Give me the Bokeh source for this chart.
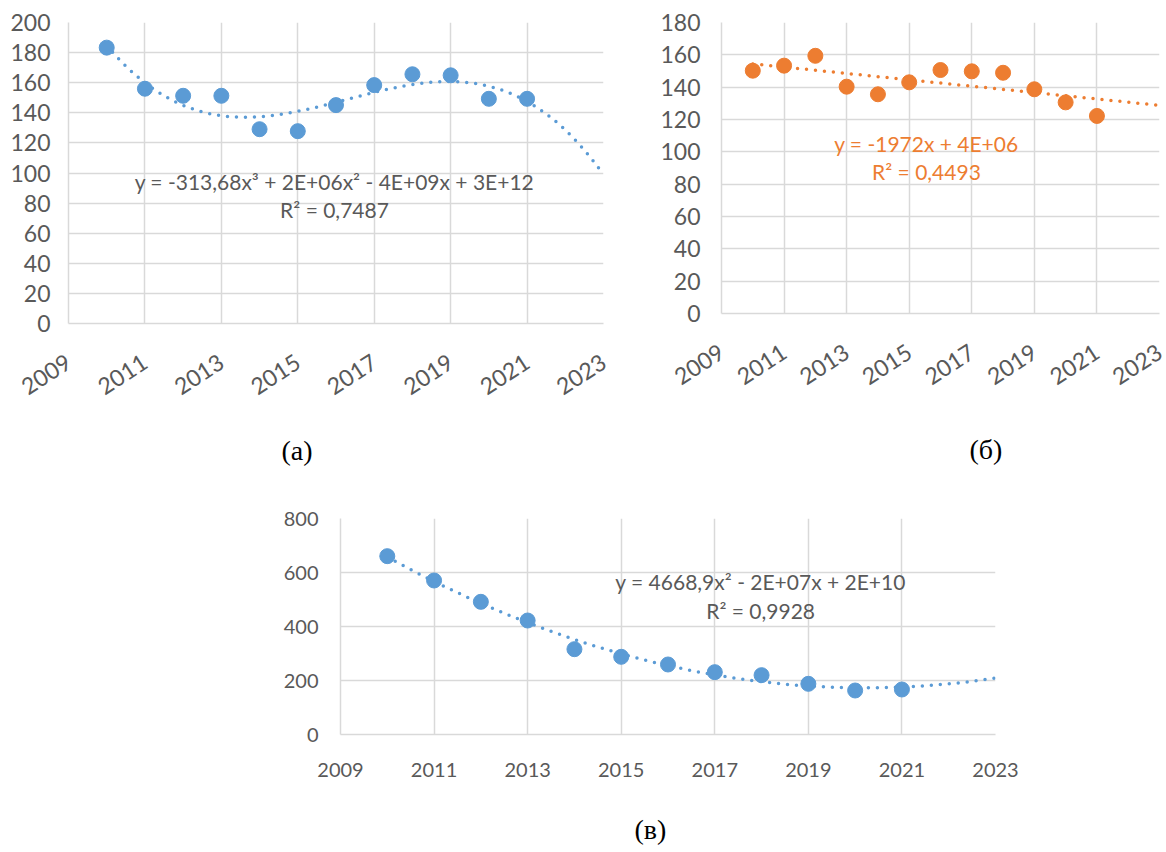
import math
import numpy as np
from bokeh.plotting import figure
from bokeh.models import Range1d, Label, Title
from bokeh.layouts import column, row
from bokeh.embed import file_html
from bokeh.resources import INLINE

years = [2010, 2011, 2012, 2013, 2014, 2015, 2016, 2017, 2018, 2019, 2020, 2021]
a_vals = [183.3, 156.0, 151.3, 151.3, 129.1, 127.8, 145.1, 158.4, 165.6, 164.9, 149.3, 149.3]
b_vals = [150.2, 153.3, 159.4, 140.3, 135.6, 143.0, 150.6, 149.8, 148.9, 138.7, 130.6, 122.2]
c_vals = [660.5, 570.4, 491.4, 422.2, 316.0, 287.7, 259.3, 230.9, 219.8, 187.7, 163.0, 166.7]
x_ticks = [2009, 2011, 2013, 2015, 2017, 2019, 2021, 2023]
a_ticks = list(range(0, 201, 20))
b_ticks = list(range(0, 181, 20))
c_ticks = [0, 200, 400, 600, 800]
a_eq = ["y = -313,68x³ + 2E+06x² - 4E+09x + 3E+12", "R² = 0,7487"]
b_eq = ["y = -1972x + 4E+06", "R² = 0,4493"]
c_eq = ["y = 4668,9x² - 2E+07x + 2E+10", "R² = 0,9928"]
captions = ["(а)", "(б)", "(в)"]

BLUE = "#5b9bd5"
ORANGE = "#ed7d31"
GRID = "#d9d9d9"
TXT = "#595959"
FONT = "Lato"


def make(frame_w, frame_h, bl, bt, br, bb, ymax, yticks, vals, color, deg,
         eq, eq_pos, eq_color, tick_fs, rot, ystand, xstand, eq_fs, cap, cap_off, cap_stand):
    p = figure(frame_width=frame_w, frame_height=frame_h,
               min_border_left=bl, min_border_top=bt, min_border_right=br, min_border_bottom=bb,
               x_range=Range1d(2009, 2023), y_range=Range1d(0, ymax),
               output_backend="svg", toolbar_location=None)
    p.outline_line_color = None
    p.background_fill_color = "white"
    p.border_fill_color = "white"
    for ax in (p.xaxis[0], p.yaxis[0]):
        ax.axis_line_color = GRID
        ax.axis_line_width = 1.5
        ax.major_tick_line_color = None
        ax.minor_tick_line_color = None
        ax.major_label_text_color = TXT
        ax.major_label_text_font = FONT
        ax.major_label_text_font_size = tick_fs
    p.xaxis.ticker = x_ticks
    p.yaxis.ticker = yticks
    p.xaxis.major_label_standoff = xstand
    p.yaxis.major_label_standoff = ystand
    if rot:
        p.xaxis.major_label_orientation = math.radians(33)
    p.grid.grid_line_color = GRID
    p.grid.grid_line_width = 1.5

    # trendline fitted from the data
    xs = np.array(years, dtype=float) - 2015.5
    coef = np.polyfit(xs, np.array(vals), deg)
    tx = np.linspace(2010, 2023, 300)
    ty = np.polyval(coef, tx - 2015.5)
    p.line(tx, ty, line_color=color, line_width=3.5, line_dash="0 9", line_cap="round")
    p.scatter(years, vals, size=15, fill_color=color, line_color=color)

    ex, ey1, ey2 = eq_pos
    for txt, yy in zip(eq, (ey1, ey2)):
        p.add_layout(Label(x=ex, y=yy, text=txt, text_align="center", text_baseline="middle",
                           text_color=eq_color, text_font=FONT, text_font_size=eq_fs))
    p.add_layout(Title(text=cap, align="left", offset=cap_off, standoff=cap_stand,
                       text_color="black", text_font="Liberation Serif",
                       text_font_size="28px", text_font_style="normal"), "below")
    return p


pA = make(535, 301, 68, 22, 15, 167, 200, a_ticks, a_vals, BLUE, 3,
          a_eq, (2015.96, 94.4, 75.8), TXT, "23px", True, 12, 30, "21px",
          captions[0], 213, 55)
pB = make(438, 291, 103, 18, 7, 181, 180, b_ticks, b_vals, ORANGE, 1,
          b_eq, (2015.55, 105.2, 87.8), ORANGE, "23px", True, 15, 30, "21px",
          captions[1], 248, 73)
pC = make(655, 216, 340, 21, 40, 110, 800, c_ticks, c_vals, BLUE, 2,
          c_eq, (2017.98, 566.7, 459.3), TXT, "20px", False, 16, 22, "21px",
          captions[2], 294, 64)

layout = column(row(pA, pB), pC)
open("out.html", "w").write(file_html(layout, INLINE))
